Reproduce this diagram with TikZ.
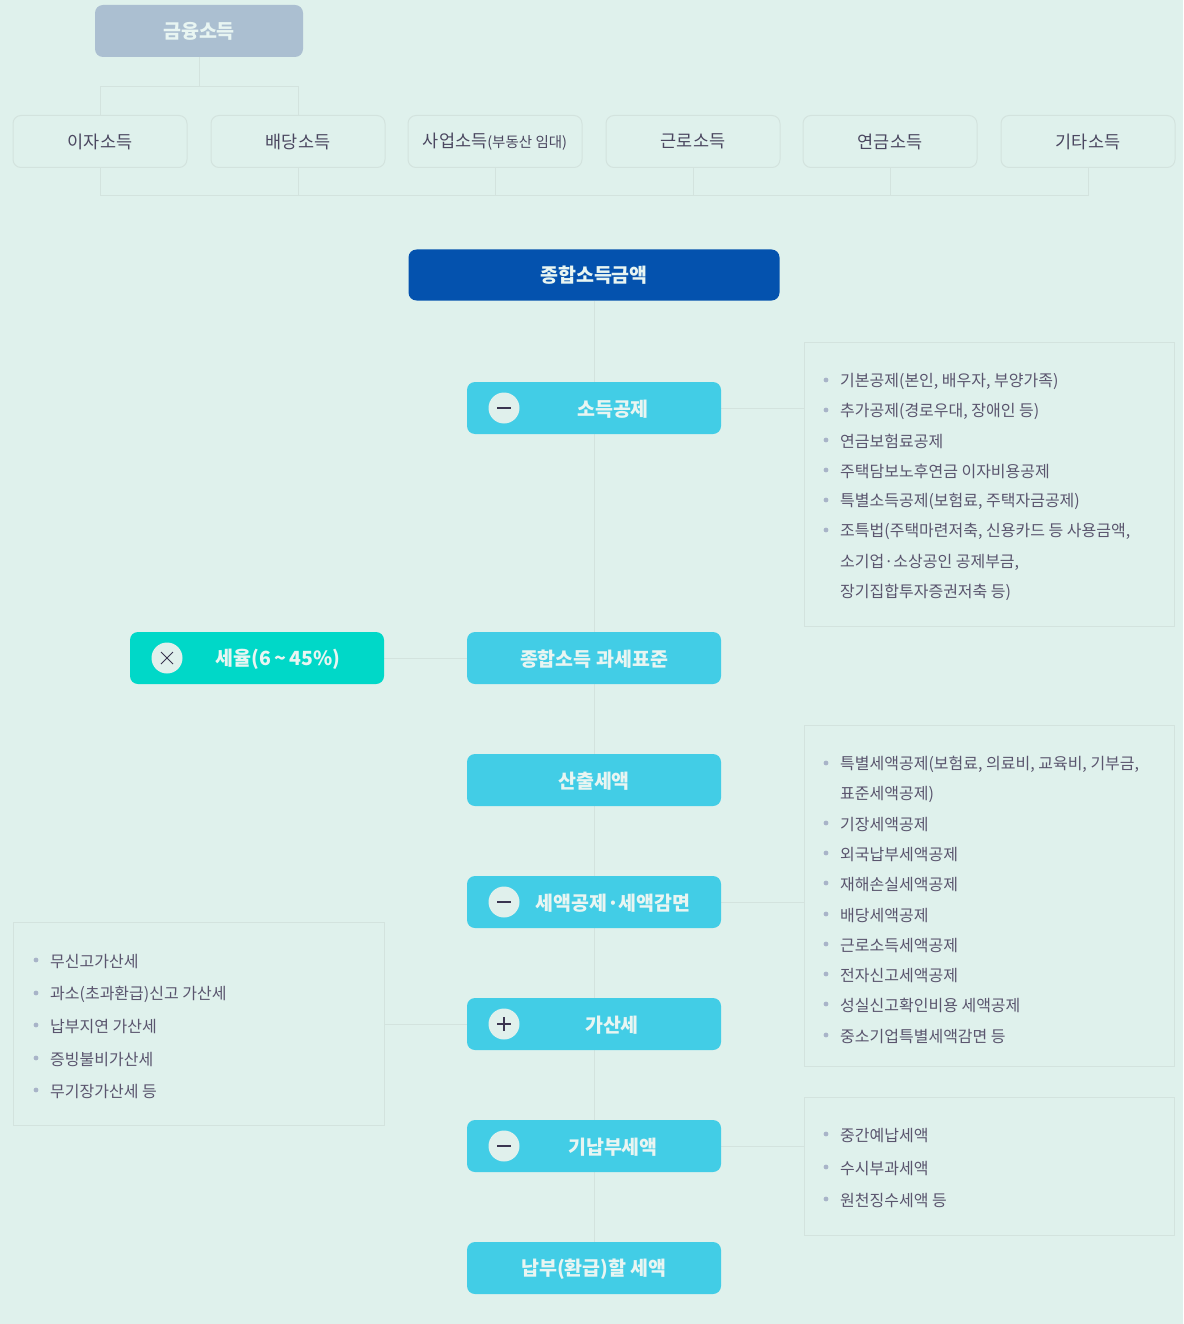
\documentclass[tikz,border=0pt]{standalone}
\usepackage{fontspec}
\setmainfont{Noto Sans CJK KR}
\usetikzlibrary{backgrounds}
\definecolor{bgc}{HTML}{DFF1EC}
\definecolor{linec}{HTML}{D3E3DE}
\definecolor{finc}{HTML}{ABBFD1}
\definecolor{mainc}{HTML}{0452AE}
\definecolor{cyanc}{HTML}{42CDE6}
\definecolor{ratec}{HTML}{00D8C8}
\definecolor{boxtxt}{HTML}{E8F5F2}
\definecolor{toptxt}{HTML}{4B4760}
\definecolor{listtxt}{HTML}{5A556E}
\definecolor{bulletc}{HTML}{A8B4C8}
\definecolor{iconfill}{HTML}{E0F0EC}
\definecolor{icondark}{HTML}{3A3550}
\tikzset{
  conn/.style={draw=linec, line width=1pt},
  topbox/.style={draw=linec, line width=1pt, fill=bgc, rounded corners=8pt, minimum width=174pt, minimum height=52pt, inner sep=0pt, text=toptxt, font=\fontsize{17.5}{17.5}\selectfont},
  finbox/.style={fill=finc, rounded corners=8pt, minimum width=208pt, minimum height=52pt, inner sep=0pt, text=boxtxt, font=\fontsize{19.5}{19.5}\selectfont\bfseries},
  mainbox/.style={fill=mainc, rounded corners=8pt, minimum width=371pt, minimum height=51pt, inner sep=0pt, text=boxtxt, font=\fontsize{19.5}{19.5}\selectfont\bfseries},
  cbox/.style={fill=cyanc, rounded corners=8pt, minimum width=254pt, minimum height=52pt, inner sep=0pt},
  rbox/.style={fill=ratec, rounded corners=8pt, minimum width=254pt, minimum height=52pt, inner sep=0pt},
  btitle/.style={inner sep=0pt, text=boxtxt, font=\fontsize{19.5}{19.5}\selectfont\bfseries},
  icon/.style={circle, fill=iconfill, minimum size=31pt, inner sep=0pt},
  iconline/.style={draw=icondark, line width=1.3pt},
  sidebox/.style={draw=linec, line width=1pt, fill=bgc, minimum width=370pt, inner sep=0pt},
  litem/.style={anchor=west, inner sep=0pt, text=listtxt, font=\fontsize{16}{16}\selectfont}
}
\begin{document}
\begin{tikzpicture}[x=1pt, y=-1pt]
\useasboundingbox (0,0) rectangle (1183,1324);
\begin{scope}[on background layer]
  \fill[bgc] (0,0) rectangle (1183,1324);
\end{scope}

% top tree
\node[finbox] (fin) at (199,31) {금융소득};
\node[topbox] (ija) at (100,141.5) {이자소득};
\node[topbox] (bae) at (298,141.5) {배당소득};
\node[topbox] (sa) at (495,141.5) {사업소득{\fontsize{14.5}{14.5}\selectfont(부동산 임대)}};
\node[topbox] (geun) at (693,141.5) {근로소득};
\node[topbox] (yeon) at (890,141.5) {연금소득};
\node[topbox] (gita) at (1088,141.5) {기타소득};
\coordinate (j1) at (199,87);
\coordinate (bl) at (100,196);
\coordinate (br) at (1088,196);

% main chain
\node[mainbox] (main) at (594,275) {종합소득금액};
\node[cbox] (sod) at (594,408) {};
\node[cbox] (tax) at (594,658) {};
\node[cbox] (calc) at (594,780) {};
\node[cbox] (ded) at (594,902) {};
\node[cbox] (gas) at (594,1024) {};
\node[cbox] (paid) at (594,1146) {};
\node[cbox] (pay) at (594,1268) {};
\node[rbox] (rate) at (257,658) {};

\node[btitle] (sodt) at (613,409) {소득공제};
\node[btitle] (taxt) at (594,659) {종합소득 과세표준};
\node[btitle] (calct) at (594,781) {산출세액};
\node[btitle] (dedt) at (613,903) {세액공제·세액감면};
\node[btitle] (gast) at (612,1025) {가산세};
\node[btitle] (paidt) at (613,1147) {기납부세액};
\node[btitle] (payt) at (594,1269) {납부(환급)할 세액};
\node[btitle] (ratet) at (278,659) {세율(6\,\textasciitilde\,45\%)};

% icons
\node[icon] (i1) at (504,408) {};
\draw[iconline] ([xshift=-7pt]i1.center) -- ([xshift=7pt]i1.center);
\node[icon] (i2) at (504,902) {};
\draw[iconline] ([xshift=-7pt]i2.center) -- ([xshift=7pt]i2.center);
\node[icon] (i3) at (504,1024) {};
\draw[iconline] ([xshift=-7pt]i3.center) -- ([xshift=7pt]i3.center);
\draw[iconline] ([yshift=-7pt]i3.center) -- ([yshift=7pt]i3.center);
\node[icon] (i4) at (504,1146) {};
\draw[iconline] ([xshift=-7pt]i4.center) -- ([xshift=7pt]i4.center);
\node[icon] (i5) at (167,658) {};
\draw[iconline, line width=1pt] ([shift={(-6pt,-6pt)}]i5.center) -- ([shift={(6pt,6pt)}]i5.center);
\draw[iconline, line width=1pt] ([shift={(-6pt,6pt)}]i5.center) -- ([shift={(6pt,-6pt)}]i5.center);

% side boxes
\begin{scope}[on background layer]
\node[sidebox, minimum height=284pt] (sb1) at (989,484) {};
\node[sidebox, minimum height=341pt] (sb2) at (989,895.5) {};
\node[sidebox, minimum height=138pt] (sb3) at (989,1166) {};
\node[sidebox, minimum width=371pt, minimum height=203pt] (lb) at (198.5,1023.5) {};
\end{scope}

% connectors
\begin{scope}[on background layer]
\draw[conn] (fin.south) -- (j1);
\draw[conn] (ija.north) |- (j1);
\draw[conn] (bae.north) |- (j1);
\draw[conn] (ija.south) -- (bl) -- (br) -- (gita.south);
\draw[conn] (bae.south) -- (bae.south |- bl);
\draw[conn] (sa.south) -- (sa.south |- bl);
\draw[conn] (geun.south) -- (geun.south |- bl);
\draw[conn] (yeon.south) -- (yeon.south |- bl);
\draw[conn] (main.south) -- (pay.north);
\draw[conn] (sod.east) -- (sod.east -| sb1.west);
\draw[conn] (rate.east) -- (tax.west);
\draw[conn] (ded.east) -- (ded.east -| sb2.west);
\draw[conn] (gas.west) -- (gas.west -| lb.east);
\draw[conn] (paid.east) -- (paid.east -| sb3.west);
\end{scope}

% lists
\foreach \t/\y/\b [count=\i] in {{기본공제(본인, 배우자, 부양가족)}/380/1, {추가공제(경로우대, 장애인 등)}/410/1, {연금보험료공제}/440/1, {주택담보노후연금 이자비용공제}/470/1, {특별소득공제(보험료, 주택자금공제)}/500/1, {조특법(주택마련저축, 신용카드 등 사용금액,}/530/1, {소기업·소상공인 공제부금,}/561/0, {장기집합투자증권저축 등)}/591/0}{
  \node[litem] (a\i) at (840,\y+1.5) {\t};
  \ifnum\b=1 \fill[bulletc] (826,\y) circle (2.4pt); \fi
}
\foreach \t/\y/\b [count=\i] in {{특별세액공제(보험료, 의료비, 교육비, 기부금,}/763/1, {표준세액공제)}/793/0, {기장세액공제}/823/1, {외국납부세액공제}/853/1, {재해손실세액공제}/883/1, {배당세액공제}/914/1, {근로소득세액공제}/944/1, {전자신고세액공제}/974/1, {성실신고확인비용 세액공제}/1004/1, {중소기업특별세액감면 등}/1035/1}{
  \node[litem] (b\i) at (840,\y+1.5) {\t};
  \ifnum\b=1 \fill[bulletc] (826,\y) circle (2.4pt); \fi
}
\foreach \t/\y [count=\i] in {{중간예납세액}/1134, {수시부과세액}/1167, {원천징수세액 등}/1199}{
  \node[litem] (c\i) at (840,\y+1.5) {\t};
  \fill[bulletc] (826,\y) circle (2.4pt);
}
\foreach \t/\y [count=\i] in {{무신고가산세}/960, {과소(초과환급)신고 가산세}/993, {납부지연 가산세}/1025, {증빙불비가산세}/1058, {무기장가산세 등}/1090}{
  \node[litem] (d\i) at (50,\y+1.5) {\t};
  \fill[bulletc] (36,\y) circle (2.4pt);
}
\end{tikzpicture}
\end{document}
